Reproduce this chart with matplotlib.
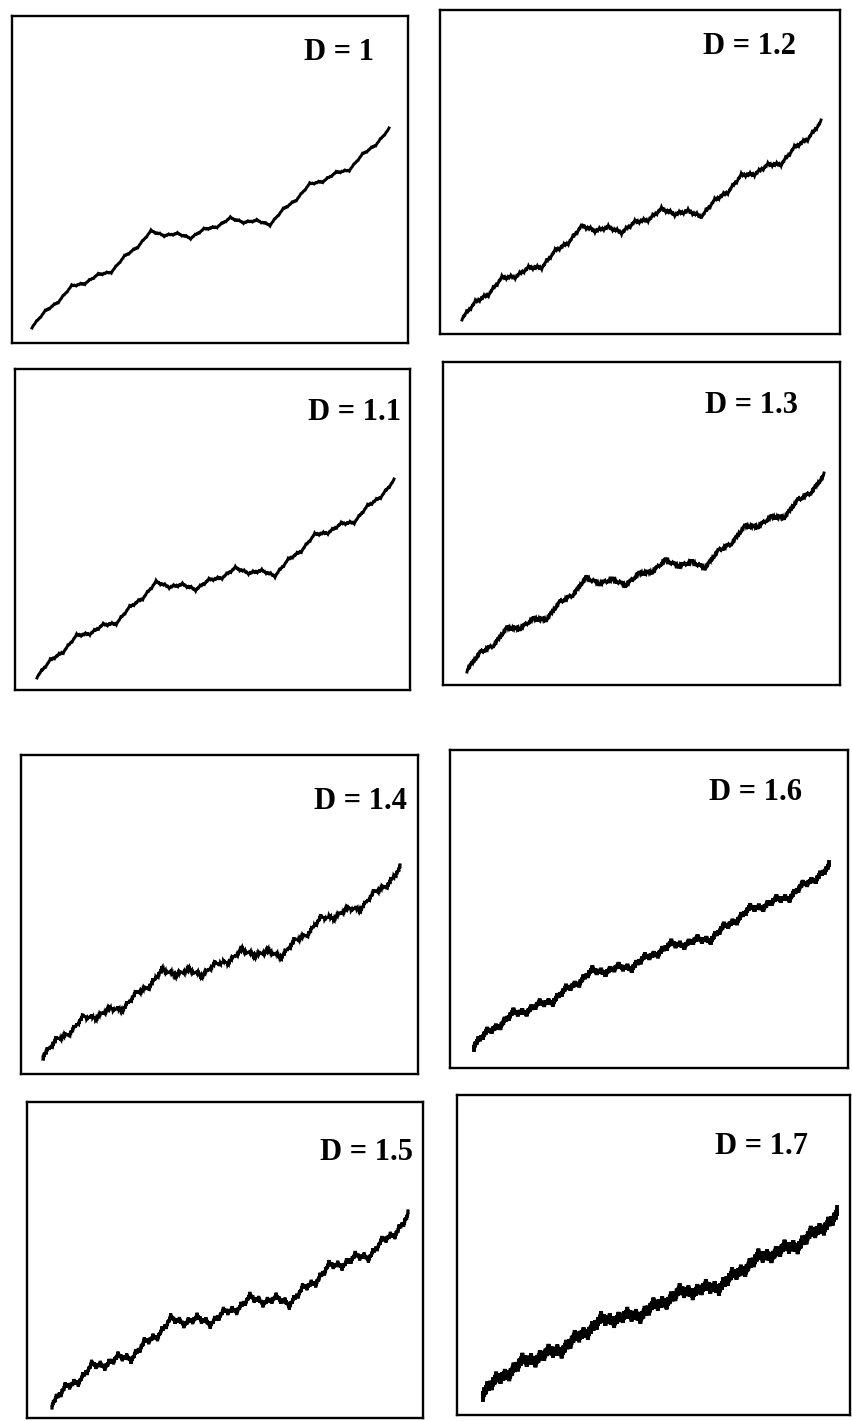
import numpy as np
import matplotlib
matplotlib.use("Agg")
import matplotlib.pyplot as plt

# fractal interpolation data: node abscissae, sign of each map's
# vertical scaling, the two inner node heights of each panel and the
# box-counting dimension of each panel
interp_x = [0.0, 1 / 3, 2 / 3, 1.0]
map_signs = [1, -1, 1]
dimensions = [1.0, 1.2, 1.1, 1.3, 1.4, 1.6, 1.5, 1.7]
node1_y = [0.49, 0.48, 0.49, 0.486, 0.477, 0.45, 0.48, 0.46]
node2_y = [0.51, 0.508, 0.506, 0.511, 0.508, 0.56, 0.50, 0.54]
labels = ["D = 1", "D = 1.2", "D = 1.1", "D = 1.3",
          "D = 1.4", "D = 1.6", "D = 1.5", "D = 1.7"]

# page layout in pixels: panel box (left, top, right, bottom),
# curve start / end point, label centre
W, H = 853, 1421
boxes = [(12, 16, 408, 343), (440, 10, 840, 334),
         (15, 369, 410, 690), (443, 362, 840, 685),
         (21, 755, 418, 1074), (450, 750, 848, 1068),
         (27, 1102, 423, 1418), (457, 1095, 850, 1415)]
starts = [(32, 328), (462, 320), (37, 678), (467, 672),
          (43, 1059), (474, 1050), (52, 1408), (483, 1400)]
ends = [(389, 128), (821, 120), (394, 479), (824, 473),
        (400, 865), (829, 862), (408, 1211), (837, 1207)]
label_pos = [(339, 52), (749, 47), (355, 413), (751, 405),
             (361, 802), (756, 793), (367, 1152), (762, 1147)]


def fractal_curve(xs, ys, d, depth=5):
    """Attractor of the IFS w_i(x, y) = (a_i x + e_i, c_i x + d_i y + f_i)."""
    xs = np.asarray(xs)
    ys = np.asarray(ys)
    n = len(xs) - 1
    x0, xn, y0, yn = xs[0], xs[-1], ys[0], ys[-1]
    a = (xs[1:] - xs[:-1]) / (xn - x0)
    e = xs[:-1] - a * x0
    c = (ys[1:] - ys[:-1] - d * (yn - y0)) / (xn - x0)
    f = ys[:-1] - c * x0 - d * y0
    px, py = xs.copy(), ys.copy()
    for _ in range(depth):
        nx, ny = [], []
        for i in range(n):
            nx.append(a[i] * px[:-1] + e[i])
            ny.append(c[i] * px[:-1] + d[i] * py[:-1] + f[i])
        nx.append([xn])
        ny.append([yn])
        px = np.concatenate(nx)
        py = np.concatenate(ny)
    return px, py


fig = plt.figure(figsize=(W / 100, H / 100), dpi=100)
n_maps = len(interp_x) - 1

for k, dim in enumerate(dimensions):
    left, top, right, bottom = boxes[k]
    ax = fig.add_axes([left / W, 1 - bottom / H, (right - left) / W, (bottom - top) / H])

    # |d| chosen so that sum |d_i| = N^(D-1)
    scale = n_maps ** (dim - 1) / n_maps
    d = scale * np.array(map_signs, dtype=float)
    ys_nodes = [0.0, node1_y[k], node2_y[k], 1.0]
    depth = 5 if dim < 1.35 else 6
    cx, cy = fractal_curve(interp_x, ys_nodes, d, depth)
    if dim < 1.35:
        lw = 2.1
    elif dim < 1.55:
        lw = 2.3
    else:
        lw = 2.8
    ax.plot(cx, cy, color="black", lw=lw, solid_joinstyle="miter")

    (sx, sy), (ex, ey) = starts[k], ends[k]
    xs = ex - sx
    ys = sy - ey
    ax.set_xlim(-(sx - left) / xs, 1 + (right - ex) / xs)
    ax.set_ylim(-(bottom - sy) / ys, 1 + (ey - top) / ys)
    ax.set_xticks([])
    ax.set_yticks([])
    for sp in ax.spines.values():
        sp.set_linewidth(1.7)

    lx, ly = label_pos[k]
    fig.text(lx / W, 1 - ly / H, labels[k], ha="center", va="center",
             fontsize=22, fontweight="bold", family="Liberation Serif")

fig.savefig("out.png", dpi=100, facecolor="white")
